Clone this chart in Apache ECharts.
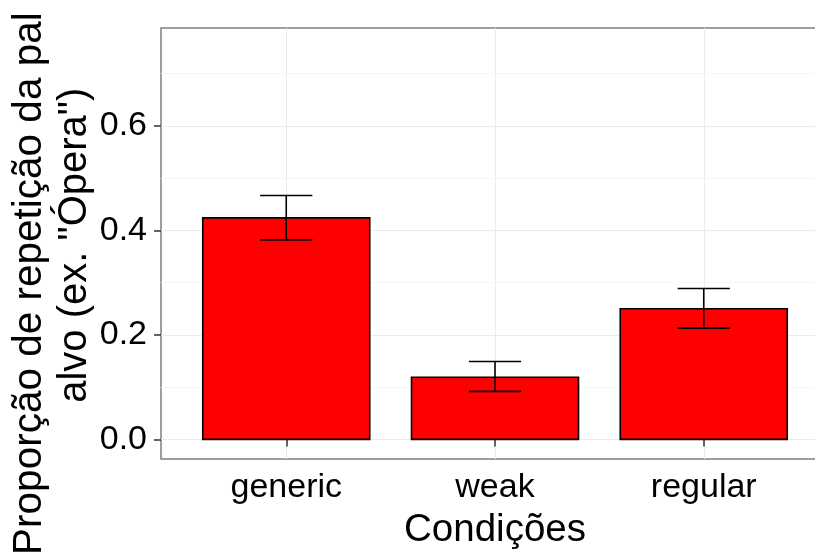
<!DOCTYPE html>
<html><head><meta charset="utf-8">
<script src="https://cdn.jsdelivr.net/npm/echarts@6/dist/echarts.min.js"></script>
<style>html,body{margin:0;padding:0;background:#fff}#c{width:815px;height:553px}</style>
</head><body><div id="c"></div>
<script>
const categories = ['generic', 'weak', 'regular'];
const means = [0.424, 0.119, 0.250];
const lower = [0.382, 0.092, 0.213];
const upper = [0.467, 0.149, 0.289];
const yTicks = [0, 0.2, 0.4, 0.6];
const yMinor = [0.1, 0.3, 0.5, 0.7];
const xTitle = 'Condições';
const yTitle1 = 'Proporção de repetição da palavra';
const yTitle2 = 'alvo (ex. "Ópera")';

const xPos = categories.map((c, i) => i + 1);
const FONT = '"Liberation Sans", Arial, sans-serif';
const Y_MIN = -0.0375, Y_MAX = 0.7875;

const chart = echarts.init(document.getElementById('c'), null, {renderer: 'canvas'});
chart.setOption({
  animation: false,
  backgroundColor: '#ffffff',
  grid: {left: 161, top: 28, width: 668, height: 431, show: true, outerBoundsMode: 'none',
         containLabel: false,
         borderColor: '#7f7f7f', borderWidth: 1.5, backgroundColor: 'transparent'},
  xAxis: {
    type: 'value', min: 0.4, max: 3.6,
    axisLine: {show: false},
    axisTick: {show: true, customValues: xPos, length: 7, lineStyle: {color: '#333', width: 1.5}},
    axisLabel: {customValues: xPos, formatter: v => categories[Math.round(v) - 1] || '',
                color: '#000', fontSize: 34, fontFamily: FONT, margin: 12},
    splitLine: {show: true, lineStyle: {color: '#ebebeb', width: 1}},
    name: xTitle, nameLocation: 'middle', nameGap: 52,
    nameTextStyle: {fontSize: 38.5, color: '#000', fontFamily: FONT}
  },
  yAxis: [
    {
      type: 'value', min: Y_MIN, max: Y_MAX,
      axisLine: {show: false},
      axisTick: {show: true, customValues: yTicks, length: 7, lineStyle: {color: '#333', width: 1.5}},
      axisLabel: {customValues: yTicks, formatter: v => v.toFixed(1),
                  color: '#000', fontSize: 34, fontFamily: FONT, margin: 14},
      splitLine: {show: true, lineStyle: {color: '#ebebeb', width: 1}}
    },
    {
      type: 'value', min: Y_MIN, max: Y_MAX, position: 'left',
      axisLine: {show: false},
      axisTick: {show: false, customValues: yMinor},
      axisLabel: {show: false, customValues: yMinor},
      splitLine: {show: true, lineStyle: {color: '#f6f6f6', width: 1}}
    }
  ],
  series: [
    {
      type: 'custom', z: 2,
      data: xPos.map((x, i) => [x, means[i]]),
      renderItem: (params, api) => {
        const x = api.value(0), v = api.value(1);
        const p1 = api.coord([x - 0.4, v]);
        const p2 = api.coord([x + 0.4, 0]);
        return {type: 'rect',
          shape: {x: p1[0], y: p1[1], width: p2[0] - p1[0], height: p2[1] - p1[1]},
          style: {fill: '#ff0000', stroke: '#000', lineWidth: 1.6}};
      }
    },
    {
      type: 'custom', z: 3,
      data: xPos.map((x, i) => [x, lower[i], upper[i]]),
      renderItem: (params, api) => {
        const x = api.value(0), lo = api.value(1), hi = api.value(2);
        const a = api.coord([x, hi]), b = api.coord([x, lo]);
        const hw = api.size([0.125, 0])[0];
        const st = {stroke: '#000', lineWidth: 1.6};
        return {type: 'group', children: [
          {type: 'line', shape: {x1: a[0], y1: a[1], x2: b[0], y2: b[1]}, style: st},
          {type: 'line', shape: {x1: a[0] - hw, y1: a[1], x2: a[0] + hw, y2: a[1]}, style: st},
          {type: 'line', shape: {x1: b[0] - hw, y1: b[1], x2: b[0] + hw, y2: b[1]}, style: st}
        ]};
      }
    }
  ],
  graphic: [
    {type: 'text', x: 29.4, y: 244.2, rotation: Math.PI / 2, z: 10,
     style: {text: yTitle1, font: '40.5px ' + FONT, fill: '#000', align: 'center', verticalAlign: 'middle'}},
    {type: 'text', x: 74.7, y: 245.2, rotation: Math.PI / 2, z: 10,
     style: {text: yTitle2, font: '40px ' + FONT, fill: '#000', align: 'center', verticalAlign: 'middle'}},
    {type: 'rect', z: 20, shape: {x: 0, y: -80, width: 56, height: 93},
     style: {fill: '#ffffff'}}
  ]
});
</script></body></html>
